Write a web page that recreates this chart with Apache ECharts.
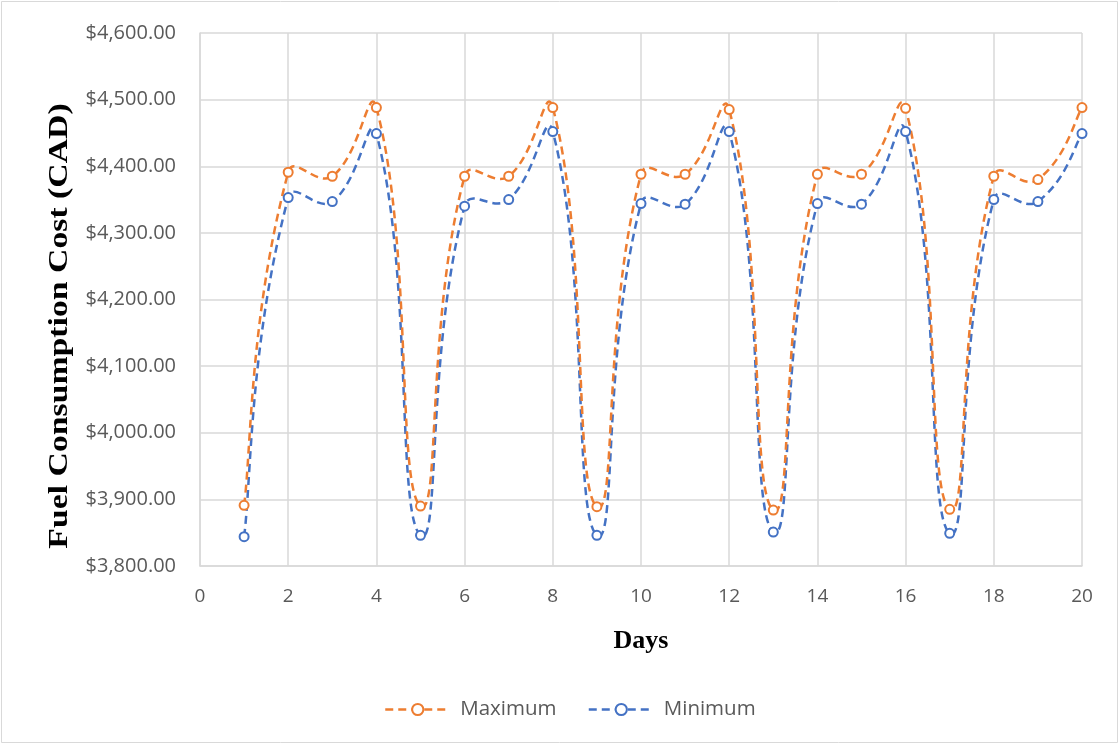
<!DOCTYPE html>
<html>
<head>
<meta charset="utf-8">
<script src="https://cdn.jsdelivr.net/npm/echarts@6/dist/echarts.min.js"></script>
<style>
html,body{margin:0;padding:0;background:#fff;}
#chart{width:1120px;height:745px;}
</style>
</head>
<body>
<div id="chart"></div>
<script>
const days = [1,2,3,4,5,6,7,8,9,10,11,12,13,14,15,16,17,18,19,20];
const maximum = [3891,4391,4385,4488,3890,4385,4385,4488,3889,4388,4388,4485,3884,4388,4388,4487,3885,4385,4380,4488];
const minimum = [3844,4353,4347,4449,3846,4340,4350,4452,3846,4344,4343,4452,3851,4344,4343,4452,3849,4350,4347,4449];
const xTicks = [0,2,4,6,8,10,12,14,16,18,20];
const yTicks = [3800,3900,4000,4100,4200,4300,4400,4500,4600];
const yTitle = 'Fuel Consumption Cost (CAD)';
const xTitle = 'Days';

const ORANGE = '#ED7D31', BLUE = '#4472C4';
const DASH = [8, 5];

const chart = echarts.init(document.getElementById('chart'));
const pair = (xs, ys) => xs.map((x, i) => [x, ys[i]]);
const fmt = v => '$' + v.toLocaleString('en-US', {minimumFractionDigits: 2, maximumFractionDigits: 2});
const dist = (a, b) => Math.hypot(b[0] - a[0], b[1] - a[1]);

// Smoothed line (Excel-like): Bezier through the data points, placed with api.coord,
// tangent arms weighted by neighbouring segment lengths.
function smoothLine(name, xs, ys, color, z) {
  return {
    name: name, type: 'custom', data: pair(xs, ys), encode: {x: 0, y: 1}, z: z, silent: true,
    renderItem: function (params, api) {
      if (params.dataIndex !== 0) return null;
      const p = xs.map((x, i) => api.coord([x, ys[i]]));
      const n = p.length;
      const K = 0.5;
      function arm(i, toward) {
        const prev = p[Math.max(i - 1, 0)], next = p[Math.min(i + 1, n - 1)];
        const dPrev = dist(prev, p[i]), dNext = dist(p[i], next);
        const dSeg = toward > i ? dNext : dPrev;
        const sum = dPrev + dNext;
        if (i === 0 || i === n - 1) {
          const o = p[toward];
          return [(o[0] - p[i][0]) / 6, (o[1] - p[i][1]) / 6];
        }
        const w = sum > 0 ? dSeg / sum * K : 0;
        const s = toward > i ? 1 : -1;
        return [s * (next[0] - prev[0]) * w, s * (next[1] - prev[1]) * w];
      }
      let d = 'M' + p[0][0] + ' ' + p[0][1];
      for (let i = 0; i < n - 1; i++) {
        const a1 = arm(i, i + 1), a2 = arm(i + 1, i);
        const c1 = [p[i][0] + a1[0], p[i][1] + a1[1]];
        const c2 = [p[i + 1][0] + a2[0], p[i + 1][1] + a2[1]];
        d += ' C' + c1[0] + ' ' + c1[1] + ' ' + c2[0] + ' ' + c2[1] + ' ' + p[i + 1][0] + ' ' + p[i + 1][1];
      }
      return {type: 'path', shape: {pathData: d},
        style: {fill: null, stroke: color, lineWidth: 2.5, lineDash: DASH}};
    }
  };
}

function markers(name, xs, ys, color, z) {
  return {
    name: name, type: 'line', data: pair(xs, ys), z: z,
    symbol: 'circle', symbolSize: 9, showSymbol: true,
    lineStyle: {color: color, width: 2.5, type: DASH, opacity: 0},
    itemStyle: {color: '#fff', borderColor: color, borderWidth: 2}
  };
}

chart.setOption({
  animation: false,
  backgroundColor: '#fff',
  graphic: [
    {type: 'rect', shape: {x: 1.5, y: 1.5, width: 1116, height: 741}, style: {fill: 'none', stroke: '#d9d9d9', lineWidth: 1}, silent: true},
    {type: 'text', x: 60, y: 326, rotation: Math.PI / 2, scaleX: 1.25, scaleY: 1,
     style: {text: yTitle, font: 'bold 27px "Liberation Serif"', fill: '#000', textAlign: 'center', textVerticalAlign: 'middle'}, silent: true}
  ],
  grid: {left: 200, right: 38, top: 33, bottom: 179},
  legend: {
    top: 694, left: 379, itemGap: 31, itemWidth: 65, itemHeight: 14,
    textStyle: {fontFamily: 'Open Sans', fontSize: 20.5, color: '#595959', padding: [0, 0, 0, 5]},
    data: [
      {name: 'Maximum', lineStyle: {color: ORANGE, width: 2.5, type: DASH, opacity: 1}},
      {name: 'Minimum', lineStyle: {color: BLUE, width: 2.5, type: DASH, opacity: 1}}
    ]
  },
  xAxis: {
    type: 'value', min: 0, max: 20, interval: 2,
    name: xTitle, nameLocation: 'middle', nameGap: 62,
    nameTextStyle: {fontFamily: 'Liberation Serif', fontWeight: 'bold', fontSize: 26, color: '#000'},
    axisLine: {show: true, lineStyle: {color: '#d9d9d9', width: 1.5}},
    axisTick: {show: false},
    axisLabel: {fontFamily: 'Open Sans', fontSize: 19, color: '#595959', margin: 21,
      formatter: v => xTicks.includes(v) ? String(v) : ''},
    splitLine: {show: true, lineStyle: {color: '#d9d9d9', width: 1.5}}
  },
  yAxis: {
    type: 'value', min: 3800, max: 4600, interval: 100,
    axisLine: {show: true, lineStyle: {color: '#d9d9d9', width: 1.5}},
    axisTick: {show: false},
    axisLabel: {fontFamily: 'Open Sans', fontSize: 20, color: '#595959', margin: 24,
      formatter: v => yTicks.includes(v) ? fmt(v) : ''},
    splitLine: {show: true, lineStyle: {color: '#d9d9d9', width: 1.5}}
  },
  series: [
    markers('Maximum', days, maximum, ORANGE, 6),
    markers('Minimum', days, minimum, BLUE, 5),
    smoothLine('Minimum', days, minimum, BLUE, 3),
    smoothLine('Maximum', days, maximum, ORANGE, 4)
  ]
});
</script>
</body>
</html>
